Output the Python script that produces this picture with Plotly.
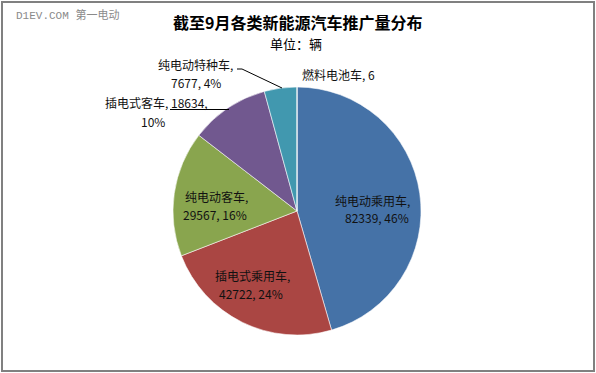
import plotly.graph_objects as go

# ---- data ----
categories = ["纯电动乘用车", "插电式乘用车", "纯电动客车", "插电式客车", "纯电动特种车", "燃料电池车"]
values = [82339, 42722, 29567, 18634, 7677, 6]
colors = ["#4572A7", "#AA4643", "#89A54E", "#71588F", "#4198AF", "#DB843D"]
title_text = "截至9月各类新能源汽车推广量分布"
subtitle_text = "单位：辆"
watermark_text = "D1EV.COM 第一电动"

W, H = 596, 373
FONT = "Noto Sans CJK SC"
total = sum(values)
pct = [round(v / total * 100) for v in values]

# pie geometry (pixels)
cx, cy, r = 297, 211, 124

fig = go.Figure()
fig.add_trace(go.Pie(
    labels=categories, values=values, sort=False, direction="clockwise",
    rotation=0, textinfo="none", hoverinfo="label+value+percent",
    marker=dict(colors=colors, line=dict(color="rgba(255,255,255,0.7)", width=0.8)),
    domain=dict(x=[(cx - r) / W, (cx + r) / W], y=[1 - (cy + r) / H, 1 - (cy - r) / H]),
    showlegend=False,
))

# invisible pixel-space axes for labels and lines
fig.update_layout(
    xaxis=dict(range=[0, W], visible=False, fixedrange=True),
    yaxis=dict(range=[H, 0], visible=False, fixedrange=True),
)
fig.add_trace(go.Scatter(x=[None], y=[None], showlegend=False))

ann = []
def label(x, y, text, size=12, color="#111111", bold=False, family=FONT):
    ann.append(dict(x=x, y=y, xref="x", yref="y", text=("<b>%s</b>" % text) if bold else text,
                    showarrow=False, xanchor="center", yanchor="middle",
                    font=dict(family=family, size=size, color=color)))

# title / subtitle / watermark
label(297, 22, title_text, size=16, color="#000000", bold=True)
label(296, 43, subtitle_text, size=13, color="#000000")
ann.append(dict(x=14, y=15, xref="x", yref="y", text=watermark_text, showarrow=False,
                xanchor="left", yanchor="middle",
                font=dict(family="Liberation Mono, Noto Sans CJK SC", size=11, color="#8a8a8a")))

# slice labels (text from data, positions are layout)
label_pos = {
    0: [(372, 200), (377, 217)],
    1: [(252, 275), (251, 293)],
    2: [(216, 196), (215, 214)],
    3: [(156, 102), (153, 121)],
    4: [(195, 64), (196, 82)],
}
for i, lines in label_pos.items():
    if i == 3:
        t1 = "%s, %d," % (categories[i], values[i])
    else:
        t1 = "%s," % categories[i]
    t2 = "%d, %d%%" % (values[i], pct[i]) if i != 3 else "%d%%" % pct[i]
    label(lines[0][0], lines[0][1], t1)
    label(lines[1][0], lines[1][1], t2)
label(338, 74, "%s, %d" % (categories[5], values[5]))

shapes = [
    dict(type="rect", xref="x", yref="y", x0=2, y0=2, x1=594, y1=371,
         line=dict(color="#808080", width=2), fillcolor="rgba(0,0,0,0)"),
    dict(type="line", xref="x", yref="y", x0=170, y0=109.5, x1=229, y1=109.5,
         line=dict(color="#000000", width=1)),
    dict(type="path", xref="x", yref="y", path="M 237 69 L 242 69 L 282 88",
         line=dict(color="#000000", width=1)),
]

fig.update_layout(
    width=W, height=H, margin=dict(l=0, r=0, t=0, b=0),
    paper_bgcolor="white", plot_bgcolor="white",
    annotations=ann, shapes=shapes,
    font=dict(family=FONT),
)

fig.write_html("out.html", config={"displayModeBar": False},
               post_script="document.body.style.margin='0';document.body.style.overflow='hidden';")
